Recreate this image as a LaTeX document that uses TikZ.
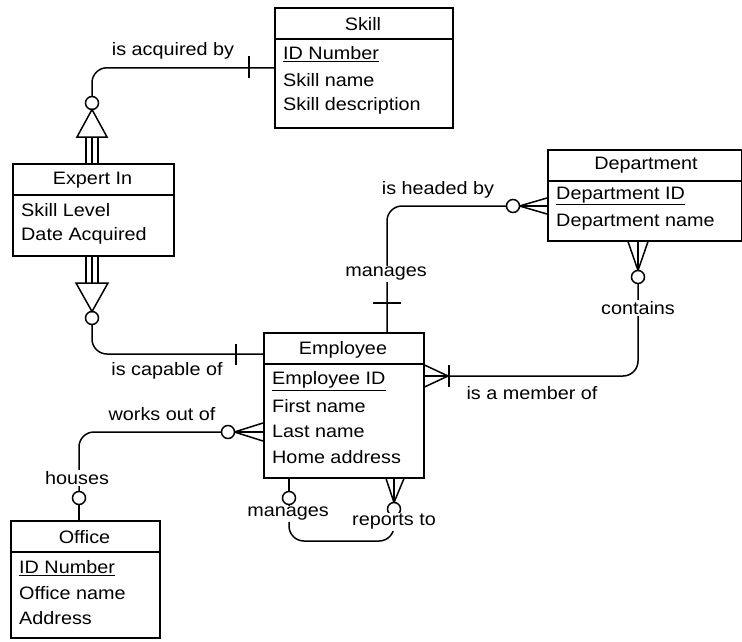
\documentclass[tikz,border=0pt]{standalone}
\usepackage{fontspec}
\setmainfont{Liberation Sans}[FakeStretch=1.1]
\begin{document}
\begin{tikzpicture}[x=1pt,y=-1pt,
  ent/.style={draw, line width=1.5pt, inner sep=0pt, anchor=north west},
  conn/.style={line width=1.5pt, rounded corners=15pt},
  thk/.style={line width=1.5pt},
  ttl/.style={inner sep=0pt, anchor=center, yshift=-1.5pt},
  attr/.style={inner sep=0pt, anchor=west, yshift=-2pt},
  lbl/.style={inner sep=1pt, fill=white, anchor=center, yshift=-2pt},
  every node/.append style={font=\fontsize{18pt}{22pt}\selectfont}]
\useasboundingbox (0,0) rectangle (742,641);
\fill[white] (0,0) rectangle (742,641);

% ---------- entities ----------
\node[ent, minimum width=178pt, minimum height=120pt] (skill) at (274,7) {};
\draw[thk] (skill.west |- 0,39) -- (skill.east |- 0,39);
\node[ttl] (skillT) at (363,23) {Skill};
\node[attr] (skillA) at (283,52) {\underline{ID Number}};
\node[attr] (skillB) at (283,78) {Skill name};
\node[attr] (skillC) at (283,104) {Skill description};

\node[ent, minimum width=161pt, minimum height=92pt] (expert) at (12,163) {};
\draw[thk] (expert.west |- 0,195) -- (expert.east |- 0,195);
\node[ttl] (expertT) at (92.5,179) {Expert In};
\node[attr] (expertA) at (21,208) {Skill Level};
\node[attr] (expertB) at (21,234) {Date Acquired};

\node[ent, minimum width=194pt, minimum height=91pt] (dept) at (547,149) {};
\draw[thk] (dept.west |- 0,181) -- (dept.east |- 0,181);
\node[ttl] (deptT) at (646,164) {Department};
\node[attr] (deptA) at (556,194) {\underline{Department ID}};
\node[attr] (deptB) at (556,220) {Department name};

\node[ent, minimum width=160pt, minimum height=145pt] (emp) at (263,332) {};
\draw[thk] (emp.west |- 0,364) -- (emp.east |- 0,364);
\node[ttl] (empT) at (343,348) {Employee};
\node[attr] (empA) at (272,379) {\underline{Employee ID}};
\node[attr] (empB) at (272,404) {First name};
\node[attr] (empC) at (272,429) {Last name};
\node[attr] (empD) at (272,455) {Home address};

\node[ent, minimum width=149pt, minimum height=117pt] (office) at (10,520) {};
\draw[thk] (office.west |- 0,552) -- (office.east |- 0,552);
\node[ttl] (officeT) at (84.5,536) {Office};
\node[attr] (officeA) at (19,566) {\underline{ID Number}};
\node[attr] (officeB) at (19,591) {Office name};
\node[attr] (officeC) at (19,616) {Address};

% ---------- Skill -- Expert In ----------
\coordinate (c1) at (92,103);
\draw[conn] (skill.west) -| (92,96.5);
\draw[thk] (249,56) -- (249,78);
\draw[thk] (c1) circle (6.5);
\draw[thk] (92,109.5) -- (77,137) -- (107,137) -- cycle;
\foreach \x in {86,92,98} \draw[thk] (\x,137) -- (expert.north -| \x,0);
\node[lbl] (l1) at (173,49) {is acquired by};

% ---------- Expert In -- Employee ----------
\coordinate (c2) at (92,318);
\foreach \x in {86,92,98} \draw[thk] (expert.south -| \x,0) -- (\x,283);
\draw[thk] (76,283) -- (108,283) -- (92,311.5) -- cycle;
\draw[thk] (c2) circle (6.5);
\draw[conn] (92,324.5) |- (emp.west |- 0,354);
\draw[thk] (236,344) -- (236,365);
\node[lbl] (l2) at (167,369) {is capable of};

% ---------- Department -- Employee (headed by) ----------
\coordinate (c3) at (513,206);
\foreach \y in {198,206,214} \draw[thk] (dept.west |- 0,\y) -- (519.5,206);
\draw[thk] (c3) circle (6.5);
\draw[conn] (506.5,206) -| (emp.north -| 387,0);
\draw[thk] (373,303) -- (401,303);
\node[lbl] (l3) at (438,188) {is headed by};
\node[lbl] (l4) at (386,272) {manages};

% ---------- Department -- Employee (member) ----------
\coordinate (c4) at (638,277);
\foreach \x in {628,638,648} \draw[thk] (dept.south -| \x,0) -- (638,270.5);
\draw[thk] (c4) circle (6.5);
\draw[conn] (638,283.5) |- (emp.east |- 0,376);
\foreach \y in {365,376,387} \draw[thk] (emp.east |- 0,\y) -- (448,376);
\draw[thk] (449,365) -- (449,387);
\node[lbl] (l5) at (638,306) {contains};
\node[lbl] (l6) at (532,391) {is a member of};

% ---------- Employee -- Office ----------
\coordinate (c5) at (228,432);
\foreach \y in {423,432,441} \draw[thk] (emp.west |- 0,\y) -- (234.5,432);
\draw[thk] (c5) circle (6.5);
\draw[conn] (221.5,432) -| (79,491.5);
\coordinate (c6) at (79,498);
\draw[thk] (c6) circle (6.5);
\draw[thk] (79,504.5) -- (office.north -| 79,0);
\node[lbl] (l7) at (162,412) {works out of};
\node[lbl] (l8) at (77,476) {houses};

% ---------- Employee self (manages / reports to) ----------
\coordinate (c7) at (289,498);
\coordinate (c8) at (394,509);
\draw[thk] (emp.south -| 289,0) -- (289,491.5);
\draw[thk] (c7) circle (6.5);
\foreach \x in {386,394,404} \draw[thk] (emp.south -| \x,0) -- (394,502.5);
\draw[thk] (c8) circle (6.5);
\draw[conn] (289,504.5) |- (340,541) -| (394,515.5);
\node[lbl] (l9) at (288,512) {manages};
\node[lbl] (l10) at (394,520) {reports to};
\end{tikzpicture}
\end{document}
